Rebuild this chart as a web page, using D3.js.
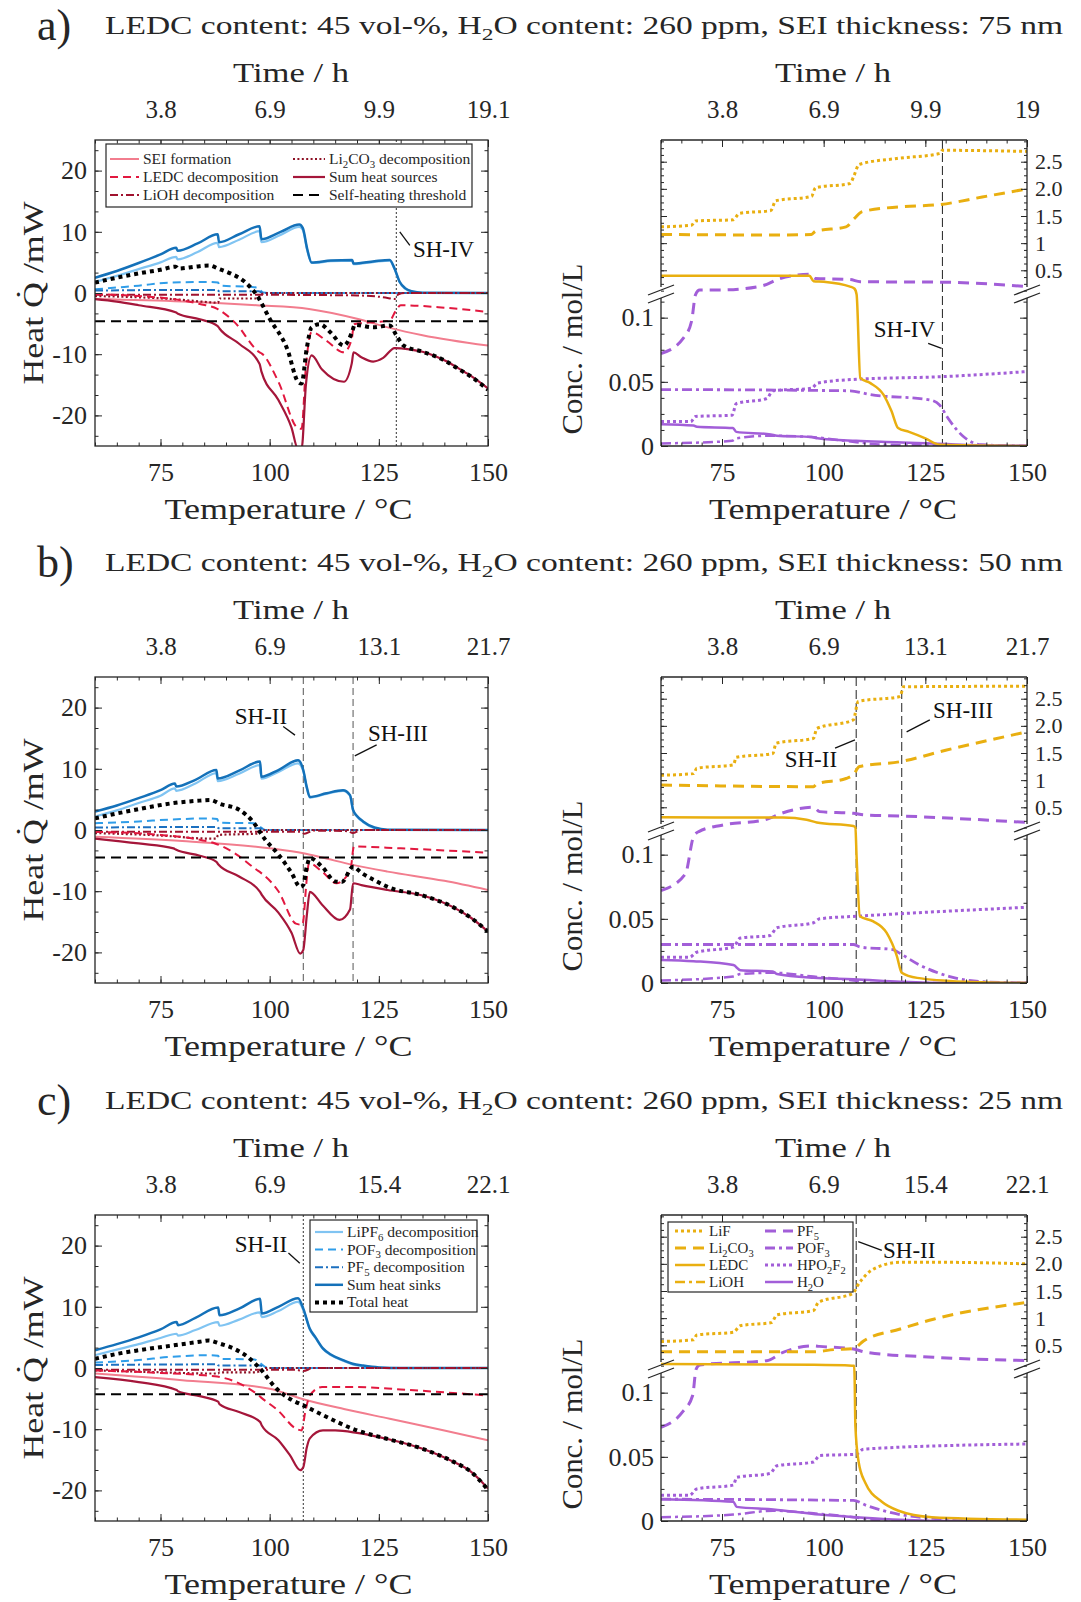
<!DOCTYPE html>
<html>
<head>
<meta charset="utf-8">
<title>Heat balance and species concentrations</title>
<script src="https://cdn.jsdelivr.net/npm/d3@7/dist/d3.min.js"></script>
<style>
  html, body { margin: 0; padding: 0; background: #fff; }
  svg { display: block; }
</style>
</head>
<body>
<svg id="fig" width="1081" height="1602"></svg>
<script>
// ---------------- labels and ticks ----------------
const rowLetters = ["a)", "b)", "c)"];
const rowTitles = [
  "LEDC content: 45 vol-%, H_2O content: 260 ppm, SEI thickness: 75 nm",
  "LEDC content: 45 vol-%, H_2O content: 260 ppm, SEI thickness: 50 nm",
  "LEDC content: 45 vol-%, H_2O content: 260 ppm, SEI thickness: 25 nm"
];
const tempTicks = [75, 100, 125, 150];
const heatTicks = [-20, -10, 0, 10, 20];
const concLowTicks = [0, 0.05, 0.1];
const concLowLabels = ["0", "0.05", "0.1"];
const concHighTicks = [0.5, 1, 1.5, 2, 2.5];
const concHighLabels = ["0.5", "1", "1.5", "2.0", "2.5"];
const timeHeatA = ["3.8", "6.9", "9.9", "19.1"];
const timeConcA = ["3.8", "6.9", "9.9", "19"];
const timeB = ["3.8", "6.9", "13.1", "21.7"];
const timeC = ["3.8", "6.9", "15.4", "22.1"];

// ---------------- heat flows [T in degC, heat in mW] ----------------
// row a (SEI 75 nm)
const lipf6A = [[60,1.8],[65,2.8],[70,3.9],[75,5.0],[78.6,5.9],[78.9,5.5],[83.5,6.7],[88.1,8.2],[88.4,7.5],[93,8.7],[97.7,10.1],[98.1,8.3],[102.5,9.5],[106.8,10.8],[107.6,10.3],[108.6,7.0],[109.6,4.9],[114,5.2],[118.9,5.3],[119.2,4.7],[124,5.1],[127.5,5.3],[128.6,3.9],[129.8,1.7],[131,0.7],[132.5,0.2],[135,0],[150,0]];
const pof3A = [[60,0.6],[65,0.9],[70,1.2],[77,1.7],[86,1.8],[88.2,1.7],[88.5,1.2],[96,1.0],[97.5,0.7],[98.5,0.1],[100,0],[150,0]];
const pf5A = [[60,0.4],[80,0.5],[88,0.5],[88.4,0.3],[97.5,0.3],[98.5,0],[150,0]];
const sinksA = [[60,2.5],[65,3.6],[70,4.9],[75,6.3],[78.6,7.4],[78.9,6.9],[83.5,8.1],[88.1,9.6],[88.4,8.3],[93,9.6],[97.7,10.9],[98.1,8.8],[102.5,10.0],[106.8,11.2],[107.6,10.6],[108.6,7.2],[109.6,5.0],[114,5.3],[118.9,5.4],[119.2,4.8],[124,5.2],[127.5,5.4],[128.6,4.0],[129.8,1.8],[131,0.8],[132.5,0.3],[135,0.05],[150,0]];
const seiA = [[60,-1.0],[80,-1.4],[97,-2.0],[109,-2.6],[120,-4.2],[127.5,-5.7],[135,-6.9],[150,-8.6]];
const ledcA = [[60,-0.2],[70,-0.5],[78,-1.0],[84,-1.8],[88,-2.6],[92,-4.8],[97.7,-9.7],[98.2,-9.9],[102,-14.5],[106.5,-22.1],[107.3,-22.2],[108.3,-12],[109.6,-6.4],[113,-7.8],[117,-9.7],[118.8,-7.5],[119.3,-5.1],[123,-4.8],[127.5,-4.5],[128.8,-3.0],[130,-2.0],[140,-2.4],[150,-3.1]];
const liohA = [[60,-0.3],[100,-0.3],[120,-0.4],[127,-0.8],[128.6,-1.0],[129.5,-0.2],[131,0],[150,0]];
const li2co3A = [[60,-0.5],[70,-0.7],[78,-1.0],[86,-1.5],[88.2,-1.6],[88.5,-0.9],[97,-0.9],[98.5,-0.1],[100,0],[150,0]];
const sourcesA = [[60,-1.0],[65,-1.4],[70,-2.0],[78.6,-3.2],[79,-3.4],[84,-4.3],[88.1,-5.4],[88.5,-5.8],[93,-8.3],[97.7,-11.6],[98.1,-12.8],[102,-17.5],[105,-22],[106.5,-25.5],[107.3,-25.5],[108.3,-15],[109.6,-10.2],[112,-12.5],[117,-14.5],[118.8,-11.5],[119.2,-9.7],[121,-10.5],[123.7,-11.2],[126,-10.6],[128.6,-9.0],[132,-9.2],[135,-9.6],[140,-11],[143,-12.2],[146,-13.5],[150,-15.6]];
const thresholdA = [[60,-4.6],[150,-4.6]];
const totalA = [[60,1.7],[65,2.5],[70,3.2],[75,3.8],[78.5,4.3],[79,4.0],[83,4.3],[86,4.5],[88.5,3.9],[91,3.2],[94,2.0],[97,-0.3],[100,-4.2],[104,-9.1],[106.5,-14.5],[107.3,-14.8],[108.5,-9],[109.6,-5.6],[111.5,-5.1],[114,-6.5],[117,-8.6],[118.8,-6.5],[119.5,-5.2],[123.7,-5.6],[127.5,-5.3],[129,-6.9],[130.7,-8.6],[135,-9.6],[140,-11],[143,-12.3],[146,-13.6],[150,-15.8]];

// row b (SEI 50 nm)
const lipf6B = [[60,2.2],[65,3.2],[70,4.4],[75,5.6],[78.3,6.8],[78.6,6.4],[83,7.6],[87.8,9.3],[88.1,8.0],[93,9.2],[97.8,10.6],[98.1,8.4],[102,9.5],[106.5,10.9],[107.7,9.6],[108.5,6.9],[109.2,5.3],[113,5.9],[116.8,6.4],[118.4,5.6],[119.1,3.2],[120,2.2],[121.4,1.3],[124,0.3],[127,0],[150,0]];
const pof3B = [[60,1.1],[70,1.4],[77,1.7],[86.5,1.9],[88,1.8],[88.3,1.2],[96.5,1.1],[97.8,0.5],[99,0],[150,0]];
const pf5B = [[60,0.4],[88,0.5],[88.3,0.3],[97.8,0.3],[99,0],[150,0]];
const sinksB = [[60,3.0],[65,4.0],[70,5.2],[75,6.5],[78.3,7.6],[78.6,7.1],[83,8.2],[87.8,9.8],[88.1,8.4],[93,9.7],[97.8,11.2],[98.1,8.7],[102,9.8],[106.5,11.4],[107.7,9.8],[108.5,7.0],[109.2,5.4],[113,6.0],[116.8,6.5],[118.4,5.7],[119.1,3.3],[120,2.3],[121.4,1.4],[124,0.4],[127,0.05],[150,0]];
const seiB = [[60,-1.1],[80,-1.8],[100,-3.0],[107.7,-3.8],[112,-4.5],[119,-5.7],[127,-6.8],[140,-8.3],[150,-9.8]];
const ledcB = [[60,-0.3],[75,-0.8],[84,-1.6],[87.5,-2.2],[92,-3.8],[97,-6.5],[98,-7.0],[102,-10],[106,-15.3],[107.5,-15.5],[108.5,-8],[109,-5.4],[112,-6.8],[115.3,-8.7],[118.5,-6.5],[119.3,-2.7],[130,-3.0],[150,-3.7]];
const liohB = [[60,-0.3],[107,-0.3],[108,-0.6],[110,-0.1],[118,-0.2],[119,-0.5],[121,0],[150,0]];
const li2co3B = [[60,-0.5],[75,-0.9],[86,-1.4],[87.8,-1.4],[88.2,-0.8],[97,-0.6],[99,0],[150,0]];
const sourcesB = [[60,-1.4],[70,-2.2],[78,-3.0],[78.5,-3.2],[84,-4.2],[87.8,-5.2],[88.2,-5.6],[93,-7.6],[97.8,-10.1],[98.2,-10.6],[102,-13.5],[105,-16.8],[107,-20.2],[107.7,-19.6],[108.5,-14],[109.2,-10.1],[112,-12.2],[116,-14.7],[118.4,-13],[119.1,-8.7],[121,-9.0],[127,-9.8],[135,-10.7],[142,-12.6],[146,-14.3],[150,-16.6]];
const thresholdB = [[60,-4.5],[150,-4.5]];
const totalB = [[60,1.9],[65,2.7],[70,3.4],[78,4.4],[84,4.8],[86.5,4.9],[88.5,4.3],[93,3.3],[96,1.5],[99,-1.6],[102,-4],[105,-7],[107,-9.3],[107.7,-9.0],[108.5,-6],[109.2,-4.6],[112,-6.0],[115,-8.4],[116.5,-8.5],[119.1,-6.0],[121,-7.0],[124,-8.2],[127,-9.3],[135,-10.7],[142,-12.6],[146,-14.3],[150,-16.6]];

// row c (SEI 25 nm)
const lipf6C = [[60,2.1],[65,3.0],[70,3.9],[75,4.9],[78.7,5.6],[79,5.3],[83,6.2],[88.2,7.5],[88.5,6.9],[93,7.9],[97.8,9.1],[98.2,8.3],[102,9.3],[106.5,10.8],[107.7,9.5],[109.2,6.3],[110.5,4.9],[112.2,3.1],[114,2.1],[116.8,1.2],[119,0.6],[121.4,0.3],[125,0.05],[130,0],[150,0]];
const pof3C = [[60,0.9],[70,1.3],[77,1.8],[86.5,2.1],[88.2,2.0],[88.5,1.5],[96.5,1.4],[97.8,0.8],[99.5,0],[150,0]];
const pf5C = [[60,0.5],[88,0.6],[88.3,0.4],[97.8,0.4],[99.5,0],[150,0]];
const sinksC = [[60,2.9],[65,3.9],[70,5.0],[75,6.3],[78.7,7.5],[79,7.0],[83,8.2],[88.2,9.9],[88.5,8.6],[93,9.7],[97.8,11.3],[98.2,8.9],[102,10.0],[106.5,11.4],[107.7,9.7],[109.2,6.4],[110.5,5.0],[112.2,3.2],[114,2.2],[116.8,1.3],[119,0.7],[121.4,0.4],[125,0.1],[130,0],[150,0]];
const seiC = [[60,-0.9],[80,-2.0],[100,-3.4],[107.7,-5.1],[117,-6.7],[127.5,-8.3],[140,-10.2],[150,-11.8]];
const ledcC = [[60,-0.4],[75,-0.8],[85,-1.2],[88,-1.4],[93,-2.5],[97.5,-4.5],[98,-4.8],[102,-7.0],[106,-9.9],[107.3,-10.2],[108.2,-7],[109.2,-4.5],[112,-3.1],[120,-3.1],[130,-3.5],[150,-4.5]];
const liohC = [[60,-0.3],[106,-0.3],[107.7,-0.5],[110,0],[150,0]];
const li2co3C = [[60,-0.4],[75,-0.7],[86.5,-0.9],[88.2,-0.9],[88.5,-0.7],[97,-0.7],[99,0],[150,0]];
const sourcesC = [[60,-1.5],[70,-2.3],[78.7,-3.6],[79,-3.8],[84,-4.6],[88.2,-5.5],[88.5,-5.9],[93,-7.2],[97.8,-8.8],[98.2,-9.4],[102,-11.8],[104.6,-14.2],[107,-16.7],[107.7,-16.2],[108.5,-13],[109.2,-11.5],[112.2,-10.2],[115,-10.2],[120,-10.6],[127,-11.6],[135,-13.2],[142,-15.3],[146,-16.9],[150,-19.7]];
const thresholdC = [[60,-4.3],[150,-4.3]];
const totalC = [[60,1.5],[65,2.3],[70,2.9],[78,3.7],[84,4.3],[86,4.5],[88.5,4.0],[92,3.1],[95,1.8],[97.8,-0.1],[101.6,-3.4],[105,-5.2],[107.7,-6.1],[112.2,-7.7],[120,-10.2],[127,-11.6],[135,-13.2],[142,-15.3],[146,-16.9],[150,-19.9]];

// ---------------- concentrations [T in degC, c in mol/L] ----------------
// row a
const lifA = [[60,1.30],[67.5,1.33],[68.5,1.41],[77.7,1.43],[79.3,1.55],[87,1.60],[88.2,1.78],[97,1.86],[98,2.02],[106.5,2.10],[107.5,2.25],[108.7,2.45],[118,2.56],[128.5,2.65],[129.2,2.71],[150,2.69]];
const li2co3ConcA = [[60,1.16],[88,1.15],[97,1.16],[98,1.22],[105.5,1.30],[107.5,1.45],[109.5,1.58],[118.8,1.67],[128.5,1.71],[139,1.85],[150,2.0]];
const ledcConcA = [[60,0.40],[96.5,0.40],[97.5,0.30],[100,0.29],[106.5,0.20],[107.6,0.16],[108.1,0.118],[109,0.053],[111.5,0.049],[114.7,0.040],[116.7,0.027],[118.3,0.014],[121,0.011],[125,0.006],[128.5,0.001],[150,0]];
const liohConcA = [[60,0.002],[77.5,0.004],[78.5,0.006],[87,0.008],[97,0.007],[108,0.003],[115,0.001],[150,0]];
const pf5ConcA = [[60,0.072],[65.5,0.084],[67.5,0.097],[68.5,0.118],[69.5,0.135],[75,0.137],[85,0.216],[89,0.34],[96.5,0.425],[98,0.35],[106.5,0.33],[109,0.29],[130,0.28],[150,0.2]];
const pof3ConcA = [[60,0.044],[106.5,0.043],[111.5,0.040],[126,0.036],[128.5,0.032],[130.5,0.022],[134.5,0.007],[138.7,0.001],[150,0]];
const hpoA = [[60,0.019],[67.3,0.019],[68.5,0.023],[77.5,0.024],[78.5,0.033],[86,0.037],[87.5,0.043],[97,0.045],[98.5,0.049],[108,0.052],[129,0.054],[150,0.058]];
const h2oA = [[60,0.017],[68,0.016],[68.8,0.015],[77.7,0.014],[78.5,0.011],[87,0.009],[88.5,0.008],[97,0.007],[98.5,0.006],[108,0.004],[118,0.003],[134,0.001],[150,0]];

// row b
const lifB = [[60,1.09],[68,1.12],[68.8,1.22],[77.8,1.28],[78.5,1.42],[87.5,1.49],[88.3,1.68],[97.5,1.77],[98.3,1.95],[107.3,2.11],[108.5,2.45],[118.8,2.54],[119.6,2.72],[150,2.73]];
const li2co3ConcB = [[60,0.91],[97.5,0.88],[98.3,0.93],[105.5,1.03],[107.3,1.10],[108.8,1.25],[118.8,1.34],[130,1.55],[150,1.89]];
const ledcConcB = [[60,0.315],[90,0.31],[95.8,0.27],[98.3,0.22],[107.3,0.155],[107.8,0.125],[108.1,0.098],[108.9,0.052],[112.2,0.048],[115.5,0.039],[118,0.021],[119.2,0.008],[123,0.004],[135,0.001],[150,0]];
const liohConcB = [[60,0.002],[77.8,0.005],[79.5,0.007],[87.5,0.008],[97.5,0.005],[107.3,0.002],[112,0],[150,0]];
const pf5ConcB = [[60,0.072],[66,0.085],[68,0.114],[69.3,0.118],[75,0.17],[85.6,0.27],[89.7,0.39],[97.5,0.50],[99,0.42],[107.3,0.39],[109.8,0.36],[118.8,0.34],[150,0.22]];
const pof3ConcB = [[60,0.030],[107.3,0.030],[109,0.028],[117,0.026],[118.8,0.023],[123,0.015],[131,0.005],[139,0.001],[150,0]];
const hpoB = [[60,0.020],[67,0.020],[68.8,0.024],[77.8,0.028],[79.5,0.035],[86.8,0.037],[88.5,0.043],[97.5,0.047],[99,0.050],[108,0.052],[118.8,0.054],[150,0.059]];
const h2oB = [[60,0.018],[68,0.017],[77.8,0.014],[79.5,0.010],[87.5,0.009],[88.5,0.007],[97.5,0.004],[107.3,0.003],[118.8,0.001],[130,0],[150,0]];

// row c
const lifC = [[60,0.57],[68,0.60],[68.8,0.69],[77.8,0.74],[79.5,0.86],[87.2,0.92],[88.5,1.06],[97.5,1.14],[98.7,1.29],[107.3,1.46],[108.1,1.57],[110.6,1.81],[114.7,1.98],[118.8,2.03],[127,2.03],[150,2.0]];
const li2co3ConcC = [[60,0.38],[97.5,0.38],[102.5,0.42],[107.3,0.44],[109.8,0.58],[118.8,0.80],[127,0.98],[150,1.29]];
const ledcConcC = [[60,0.155],[97.5,0.14],[107,0.125],[107.5,0.122],[107.6,0.113],[107.8,0.074],[108.6,0.046],[110.2,0.030],[114.3,0.015],[118.4,0.008],[126.6,0.003],[150,0.001]];
const liohConcC = [[60,0.003],[77.8,0.005],[87.6,0.008],[97.5,0.006],[107.3,0.003],[112,0.001],[120,0],[150,0]];
const pf5ConcC = [[60,0.073],[65.3,0.085],[67.8,0.098],[68.6,0.118],[69.5,0.137],[86,0.217],[90,0.37],[97.5,0.49],[99,0.48],[107.3,0.43],[110.6,0.37],[127,0.28],[150,0.22]];
const pof3ConcC = [[60,0.017],[107.3,0.016],[110.6,0.012],[118.8,0.005],[127,0.002],[135,0],[150,0]];
const hpoC = [[60,0.020],[67,0.020],[68.8,0.025],[77.8,0.028],[78.6,0.034],[86.8,0.037],[88.5,0.043],[97.5,0.046],[99,0.051],[108,0.052],[109.8,0.056],[150,0.060]];
const h2oC = [[60,0.017],[77.8,0.015],[78.6,0.011],[87.6,0.009],[99,0.005],[108,0.003],[118.8,0.001],[130,0],[150,0]];

// ---------------- self-heating onsets [degC] and their callouts ----------------
const onsetHeatA = [129];
const onsetHeatB = [107.7, 119.1];
const onsetHeatC = [107.7];
const onsetConcA = [129.2];
const onsetConcB = [108, 119.2];
const onsetConcC = [108];
const calloutsHeatA = [{ text: "SH-IV", at: [132.8, 5.9], anchor: "start", from: [129.8, 10.0], to: [132.1, 7.8] }];
const calloutsHeatB = [
  { text: "SH-II", at: [104, 17.4], anchor: "end", from: [103.1, 16.9], to: [105.8, 15.5] },
  { text: "SH-III", at: [122.5, 14.6], anchor: "start", from: [124.5, 13.9], to: [119.5, 12.1] }
];
const calloutsHeatC = [{ text: "SH-II", at: [104, 19.0], anchor: "end", from: [104.3, 18.8], to: [106.9, 17.1] }];
const calloutsConcA = [{ text: "SH-IV", at: [127.4, 0.085], anchor: "end", from: [125.7, 0.080], to: [129.0, 0.076] }];
const calloutsConcB = [
  { text: "SH-II", at: [103.3, 1.25], anchor: "end", from: [102.8, 1.59], to: [107.7, 1.74] },
  { text: "SH-III", at: [126.9, 2.14], anchor: "start", from: [126.1, 2.11], to: [120.4, 1.89] }
];
const calloutsConcC = [{ text: "SH-II", at: [114.6, 2.10], anchor: "start", from: [108.5, 2.41], to: [114.3, 2.25] }];

// ---------------- styling ----------------
const FONT = '"Liberation Serif", "Times New Roman", serif';
const INK = "#262626";
const GOLD = "#E9AF10";
const PURPLE = "#A25ED8";

const heatStyle = {
  lipf6:     { stroke: "#80C4F2", w: 2.2 },
  pof3:      { stroke: "#2F9DE9", w: 2.0, dash: "8,5" },
  pf5:       { stroke: "#1C70C0", w: 2.0, dash: "8,3,2,3" },
  sinks:     { stroke: "#1471B9", w: 2.5 },
  sei:       { stroke: "#F27D8E", w: 2.0 },
  li2co3:    { stroke: "#8E1125", w: 2.2, dash: "2,2.4" },
  lioh:      { stroke: "#A0122E", w: 2.0, dash: "8,3,2,3" },
  ledc:      { stroke: "#E2183F", w: 2.0, dash: "8,5" },
  sources:   { stroke: "#A5163A", w: 2.2 },
  threshold: { stroke: "#000000", w: 2.0, dash: "10,6" },
  total:     { stroke: "#000000", w: 4.0, dash: "4,4" }
};
const heatOrder = ["lipf6", "pof3", "pf5", "sinks", "sei", "li2co3", "lioh", "ledc", "sources", "threshold", "total"];

const concStyle = {
  h2o:    { stroke: PURPLE, w: 2.5 },
  lioh:   { stroke: PURPLE, w: 2.5, dash: "10,4,3,4" },
  hpo:    { stroke: PURPLE, w: 3.0, dash: "3,3" },
  pof3:   { stroke: PURPLE, w: 2.8, dash: "10,4,3,4" },
  pf5:    { stroke: PURPLE, w: 3.0, dash: "11,7" },
  ledc:   { stroke: GOLD, w: 2.5 },
  li2co3: { stroke: GOLD, w: 3.0, dash: "11,7" },
  lif:    { stroke: GOLD, w: 3.0, dash: "3,3" },
  liohKey:{ stroke: GOLD, w: 2.5, dash: "10,4,3,4" }
};
const concOrder = ["h2o", "lioh", "hpo", "pof3", "pf5", "ledc", "li2co3", "lif"];

const sourcesKey = [
  ["sei", "SEI formation"], ["ledc", "LEDC decomposition"], ["lioh", "LiOH decomposition"],
  ["li2co3", "Li_2CO_3 decomposition"], ["sources", "Sum heat sources"], ["threshold", "Self-heating threshold"]
];
const sinksKey = [
  ["lipf6", "LiPF_6 decomposition"], ["pof3", "POF_3 decomposition"], ["pf5", "PF_5 decomposition"],
  ["sinks", "Sum heat sinks"], ["total", "Total heat"]
];
const speciesKey = [
  ["lif", "LiF"], ["li2co3", "Li_2CO_3"], ["ledc", "LEDC"], ["liohKey", "LiOH"],
  ["pf5", "PF_5"], ["pof3", "POF_3"], ["hpo", "HPO_2F_2"], ["h2o", "H_2O"]
];

const rows = [
  { top: 140, timeHeat: timeHeatA, timeConc: timeConcA, onsetDash: "2,2",
    heat: { lipf6: lipf6A, pof3: pof3A, pf5: pf5A, sinks: sinksA, sei: seiA, li2co3: li2co3A, lioh: liohA, ledc: ledcA, sources: sourcesA, threshold: thresholdA, total: totalA },
    conc: { h2o: h2oA, lioh: liohConcA, hpo: hpoA, pof3: pof3ConcA, pf5: pf5ConcA, ledc: ledcConcA, li2co3: li2co3ConcA, lif: lifA },
    onsetHeat: onsetHeatA, onsetConc: onsetConcA, calloutsHeat: calloutsHeatA, calloutsConc: calloutsConcA },
  { top: 677, timeHeat: timeB, timeConc: timeB, onsetDash: "7,4",
    heat: { lipf6: lipf6B, pof3: pof3B, pf5: pf5B, sinks: sinksB, sei: seiB, li2co3: li2co3B, lioh: liohB, ledc: ledcB, sources: sourcesB, threshold: thresholdB, total: totalB },
    conc: { h2o: h2oB, lioh: liohConcB, hpo: hpoB, pof3: pof3ConcB, pf5: pf5ConcB, ledc: ledcConcB, li2co3: li2co3ConcB, lif: lifB },
    onsetHeat: onsetHeatB, onsetConc: onsetConcB, calloutsHeat: calloutsHeatB, calloutsConc: calloutsConcB },
  { top: 1215, timeHeat: timeC, timeConc: timeC, onsetDash: "2,2",
    heat: { lipf6: lipf6C, pof3: pof3C, pf5: pf5C, sinks: sinksC, sei: seiC, li2co3: li2co3C, lioh: liohC, ledc: ledcC, sources: sourcesC, threshold: thresholdC, total: totalC },
    conc: { h2o: h2oC, lioh: liohConcC, hpo: hpoC, pof3: pof3ConcC, pf5: pf5ConcC, ledc: ledcConcC, li2co3: li2co3ConcC, lif: lifC },
    onsetHeat: onsetHeatC, onsetConc: onsetConcC, calloutsHeat: calloutsHeatC, calloutsConc: calloutsConcC }
];

// ---------------- layout ----------------
const PLOT_H = 306;
const BREAK_OFF = 152;          // height of the upper (broken) segment of the concentration axis
const HEAT_X = [95, 488];
const CONC_X = [661, 1027];

const svg = d3.select("#fig").attr("font-family", FONT);

// Text with "_d" subscripts rendered as lowered, smaller digits.
function richText(parent, str, o) {
  const t = parent.append("text")
    .attr("x", o.x).attr("y", o.y)
    .attr("font-size", o.size)
    .attr("fill", o.fill || INK)
    .attr("text-anchor", o.anchor || "start");
  const parts = str.split(/_(\d)/);
  const drop = o.size * 0.24;
  let pending = 0;
  parts.forEach((p, i) => {
    if (i % 2 === 1) {
      t.append("tspan").attr("font-size", o.size * 0.7).attr("dy", drop).text(p);
      pending = -drop;
    } else if (p !== "") {
      t.append("tspan").attr("dy", pending).text(p);
      pending = 0;
    }
  });
  if (o.length) t.attr("textLength", o.length).attr("lengthAdjust", "spacingAndGlyphs");
  return t;
}

function styledPath(sel, st) {
  sel.attr("fill", "none")
    .attr("stroke", st.stroke)
    .attr("stroke-width", st.w)
    .attr("stroke-dasharray", st.dash || null)
    .attr("stroke-linejoin", "round");
  return sel;
}

function styleAxis(a, size) {
  a.select(".domain").remove();
  a.selectAll("line").attr("stroke", INK).attr("stroke-width", 1);
  a.selectAll("text").attr("font-family", FONT).attr("font-size", size).attr("fill", INK);
  return a;
}

function addAxis(g, axis, transform, size) {
  return styleAxis(g.append("g").attr("transform", transform).call(axis), size || 26);
}

function drawKey(g, entries, styles, box, layout) {
  g.append("rect").attr("x", box[0]).attr("y", box[1]).attr("width", box[2]).attr("height", box[3])
    .attr("fill", "#fff").attr("stroke", INK).attr("stroke-width", 1.2);
  entries.forEach((e, i) => {
    const col = Math.floor(i / layout.perCol);
    const r = i % layout.perCol;
    const cx = layout.cols[col];
    const cy = layout.y0 + r * layout.dy;
    const st = styles[e[0]];
    styledPath(g.append("line").attr("x1", cx[0]).attr("x2", cx[1]).attr("y1", cy).attr("y2", cy), st);
    richText(g, e[1], { x: cx[1] + 4, y: cy + 5, size: layout.size });
  });
}

const tempMinor = d3.range(60, 151, 5);
const heatMinor = d3.range(-7, 8).map(i => i * 10 / 3);
const concLowMinor = d3.range(0, 0.121, 0.0125);
const concHighMinor = d3.range(0.125, 2.9, 0.125);

rows.forEach((row, ri) => {
  const top = row.top;
  const bottom = top + PLOT_H;

  // ---- row heading ----
  svg.append("text").attr("x", 37).attr("y", top - 100).attr("font-size", 44).attr("fill", INK).text(rowLetters[ri]);
  richText(svg, rowTitles[ri], { x: 105, y: top - 106, size: 25, length: 958 });

  // ================= heat panel =================
  const x = d3.scaleLinear().domain([60, 150]).range(HEAT_X);
  const y = d3.scaleLinear().domain([-25, 25]).range([bottom, top]);
  const gh = svg.append("g");
  const clipH = `clipH${ri}`;
  gh.append("clipPath").attr("id", clipH).append("rect")
    .attr("x", HEAT_X[0]).attr("y", top).attr("width", HEAT_X[1] - HEAT_X[0]).attr("height", PLOT_H);
  const plotH = gh.append("g").attr("clip-path", `url(#${clipH})`);

  row.onsetHeat.forEach(t => {
    plotH.append("line").attr("x1", x(t)).attr("x2", x(t)).attr("y1", top).attr("y2", bottom)
      .attr("stroke", ri === 1 ? "#555" : "#333").attr("stroke-width", 1)
      .attr("stroke-dasharray", row.onsetDash);
  });

  const lineH = d3.line().x(d => x(d[0])).y(d => y(d[1])).curve(d3.curveMonotoneX);
  heatOrder.forEach(k => {
    styledPath(plotH.append("path").datum(row.heat[k]).attr("d", lineH), heatStyle[k]);
  });

  gh.append("rect").attr("x", HEAT_X[0]).attr("y", top).attr("width", HEAT_X[1] - HEAT_X[0]).attr("height", PLOT_H)
    .attr("fill", "none").attr("stroke", INK).attr("stroke-width", 1.3);

  addAxis(gh, d3.axisBottom(x).tickValues(tempTicks).tickSize(-7).tickPadding(17).tickFormat(d3.format("d")), `translate(0,${bottom})`, 26);
  addAxis(gh, d3.axisBottom(x).tickValues(tempMinor).tickSize(-3.5).tickFormat(""), `translate(0,${bottom})`);
  addAxis(gh, d3.axisTop(x).tickValues(tempTicks).tickSize(-7).tickPadding(22).tickFormat((d, i) => row.timeHeat[i]), `translate(0,${top})`, 25);
  addAxis(gh, d3.axisTop(x).tickValues(tempMinor).tickSize(-3.5).tickFormat(""), `translate(0,${top})`);
  addAxis(gh, d3.axisLeft(y).tickValues(heatTicks).tickSize(-7).tickPadding(8).tickFormat(d => d < 0 ? "-" + (-d) : String(d)), `translate(${HEAT_X[0]},0)`, 26);
  addAxis(gh, d3.axisLeft(y).tickValues(heatMinor).tickSize(-3.5).tickFormat(""), `translate(${HEAT_X[0]},0)`);
  addAxis(gh, d3.axisRight(y).tickValues(heatTicks).tickSize(-7).tickFormat(""), `translate(${HEAT_X[1]},0)`);
  addAxis(gh, d3.axisRight(y).tickValues(heatMinor).tickSize(-3.5).tickFormat(""), `translate(${HEAT_X[1]},0)`);

  const hcx = (HEAT_X[0] + HEAT_X[1]) / 2;
  svg.append("text").attr("x", hcx - 0.5).attr("y", top - 58).attr("text-anchor", "middle")
    .attr("font-size", 28).attr("fill", INK).attr("textLength", 116).attr("lengthAdjust", "spacingAndGlyphs").text("Time / h");
  svg.append("text").attr("x", hcx - 3).attr("y", bottom + 73).attr("text-anchor", "middle")
    .attr("font-size", 29).attr("fill", INK).attr("textLength", 248).attr("lengthAdjust", "spacingAndGlyphs").text("Temperature / \u00B0C");
  svg.append("text").attr("transform", `translate(43,${top + 153}) rotate(-90)`).attr("text-anchor", "middle")
    .attr("font-size", 30).attr("fill", INK).attr("textLength", 183).attr("lengthAdjust", "spacingAndGlyphs").text("Heat Q\u0307 /mW");

  row.calloutsHeat.forEach(c => {
    gh.append("line").attr("x1", x(c.from[0])).attr("y1", y(c.from[1])).attr("x2", x(c.to[0])).attr("y2", y(c.to[1]))
      .attr("stroke", "#111").attr("stroke-width", 1.3);
    gh.append("text").attr("x", x(c.at[0])).attr("y", y(c.at[1])).attr("text-anchor", c.anchor)
      .attr("font-size", 23).attr("fill", "#111").text(c.text);
  });

  if (ri === 0) {
    drawKey(gh, sourcesKey, heatStyle, [106, 144, 366, 63],
      { perCol: 3, cols: [[110, 139], [293, 325]], y0: 159, dy: 18, size: 15.5 });
  }
  if (ri === 2) {
    drawKey(gh, sinksKey, heatStyle, [310, top + 5, 167, 92],
      { perCol: 5, cols: [[315, 343]], y0: top + 17, dy: 17.6, size: 15.5 });
  }

  // ================= concentration panel (broken axis) =================
  const xc = d3.scaleLinear().domain([60, 150]).range(CONC_X);
  const yBreak = top + BREAK_OFF;
  const yLow = d3.scaleLinear().domain([0, 0.12]).range([bottom, yBreak]);
  const yUp = d3.scaleLinear().domain([0.1, 2.9]).range([yBreak, top]);
  const yc = v => (v <= 0.12 ? yLow(v) : yUp(v));

  const gc = svg.append("g");
  const clipC = `clipC${ri}`;
  gc.append("clipPath").attr("id", clipC).append("rect")
    .attr("x", CONC_X[0]).attr("y", top).attr("width", CONC_X[1] - CONC_X[0]).attr("height", PLOT_H);
  const plotC = gc.append("g").attr("clip-path", `url(#${clipC})`);

  row.onsetConc.forEach(t => {
    plotC.append("line").attr("x1", xc(t)).attr("x2", xc(t)).attr("y1", top).attr("y2", bottom)
      .attr("stroke", "#222").attr("stroke-width", 1).attr("stroke-dasharray", "9,4");
  });

  const lineC = d3.line().x(d => xc(d[0])).y(d => yc(d[1])).curve(d3.curveMonotoneX);
  concOrder.forEach(k => {
    styledPath(plotC.append("path").datum(row.conc[k]).attr("d", lineC), concStyle[k]);
  });

  // frame with a gap at the axis break
  const frame = gc.append("g").attr("stroke", INK).attr("stroke-width", 1.3);
  frame.append("line").attr("x1", CONC_X[0]).attr("x2", CONC_X[1]).attr("y1", top).attr("y2", top);
  frame.append("line").attr("x1", CONC_X[0]).attr("x2", CONC_X[1]).attr("y1", bottom).attr("y2", bottom);
  CONC_X.forEach(xx => {
    frame.append("line").attr("x1", xx).attr("x2", xx).attr("y1", top).attr("y2", yBreak - 5);
    frame.append("line").attr("x1", xx).attr("x2", xx).attr("y1", yBreak + 6).attr("y2", bottom);
    frame.append("line").attr("x1", xx - 13).attr("y1", yBreak + 3).attr("x2", xx + 13).attr("y2", yBreak - 7);
    frame.append("line").attr("x1", xx - 13).attr("y1", yBreak + 11).attr("x2", xx + 13).attr("y2", yBreak + 1);
  });

  addAxis(gc, d3.axisBottom(xc).tickValues(tempTicks).tickSize(-7).tickPadding(17).tickFormat(d3.format("d")), `translate(0,${bottom})`, 26);
  addAxis(gc, d3.axisBottom(xc).tickValues(tempMinor).tickSize(-3.5).tickFormat(""), `translate(0,${bottom})`);
  addAxis(gc, d3.axisTop(xc).tickValues(tempTicks).tickSize(-7).tickPadding(22).tickFormat((d, i) => row.timeConc[i]), `translate(0,${top})`, 25);
  addAxis(gc, d3.axisTop(xc).tickValues(tempMinor).tickSize(-3.5).tickFormat(""), `translate(0,${top})`);
  addAxis(gc, d3.axisLeft(yLow).tickValues(concLowTicks).tickSize(-7).tickPadding(7).tickFormat((d, i) => concLowLabels[i]), `translate(${CONC_X[0]},0)`, 26);
  addAxis(gc, d3.axisLeft(yLow).tickValues(concLowMinor).tickSize(-3.5).tickFormat(""), `translate(${CONC_X[0]},0)`);
  addAxis(gc, d3.axisRight(yLow).tickValues(concLowTicks).tickSize(-7).tickFormat(""), `translate(${CONC_X[1]},0)`);
  addAxis(gc, d3.axisRight(yLow).tickValues(concLowMinor).tickSize(-3.5).tickFormat(""), `translate(${CONC_X[1]},0)`);
  addAxis(gc, d3.axisRight(yUp).tickValues(concHighTicks).tickSize(-6).tickPadding(8).tickFormat((d, i) => concHighLabels[i]), `translate(${CONC_X[1]},0)`, 22);
  addAxis(gc, d3.axisRight(yUp).tickValues(concHighMinor).tickSize(-3).tickFormat(""), `translate(${CONC_X[1]},0)`);
  addAxis(gc, d3.axisLeft(yUp).tickValues(concHighTicks).tickSize(-6).tickFormat(""), `translate(${CONC_X[0]},0)`);
  addAxis(gc, d3.axisLeft(yUp).tickValues(concHighMinor).tickSize(-3).tickFormat(""), `translate(${CONC_X[0]},0)`);

  const ccx = (CONC_X[0] + CONC_X[1]) / 2;
  svg.append("text").attr("x", ccx - 11).attr("y", top - 58).attr("text-anchor", "middle")
    .attr("font-size", 28).attr("fill", INK).attr("textLength", 116).attr("lengthAdjust", "spacingAndGlyphs").text("Time / h");
  svg.append("text").attr("x", ccx - 11).attr("y", bottom + 73).attr("text-anchor", "middle")
    .attr("font-size", 29).attr("fill", INK).attr("textLength", 248).attr("lengthAdjust", "spacingAndGlyphs").text("Temperature / \u00B0C");
  svg.append("text").attr("transform", `translate(582,${top + 209}) rotate(-90)`).attr("text-anchor", "middle")
    .attr("font-size", 30).attr("fill", INK).attr("textLength", 171).attr("lengthAdjust", "spacingAndGlyphs").text("Conc. / mol/L");

  row.calloutsConc.forEach(c => {
    gc.append("line").attr("x1", xc(c.from[0])).attr("y1", yc(c.from[1])).attr("x2", xc(c.to[0])).attr("y2", yc(c.to[1]))
      .attr("stroke", "#111").attr("stroke-width", 1.3);
    gc.append("text").attr("x", xc(c.at[0])).attr("y", yc(c.at[1])).attr("text-anchor", c.anchor)
      .attr("font-size", 23).attr("fill", "#111").text(c.text);
  });

  if (ri === 2) {
    drawKey(gc, speciesKey, concStyle, [668, top + 7, 185, 70],
      { perCol: 4, cols: [[675, 705], [765, 793]], y0: top + 16, dy: 17, size: 15 });
  }
});
</script>
</body>
</html>
